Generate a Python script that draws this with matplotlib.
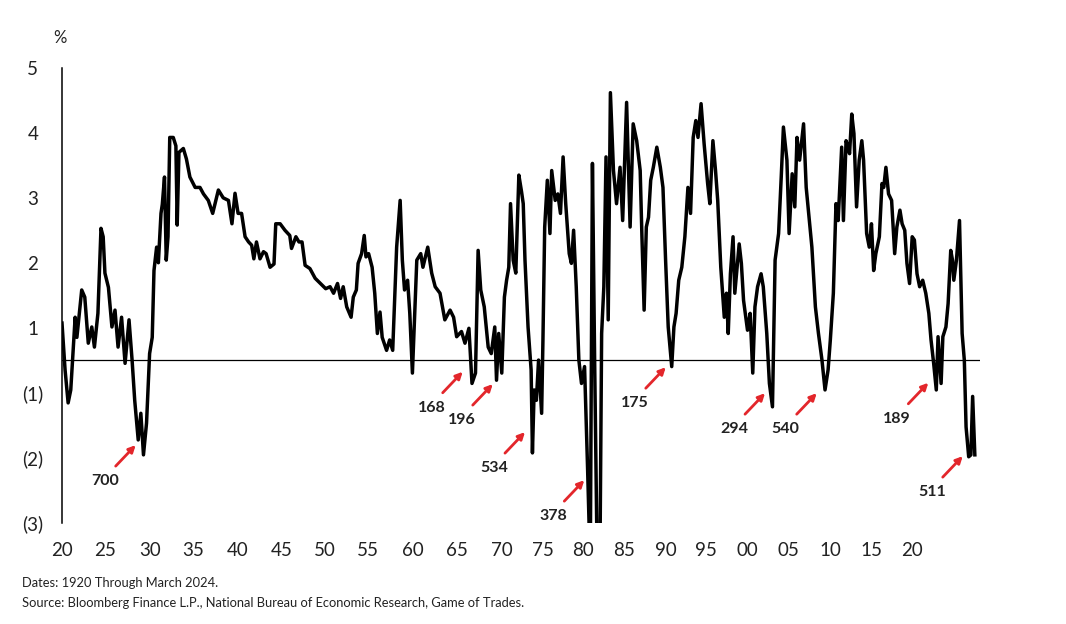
import matplotlib.pyplot as plt

plt.rcParams['font.family'] = ['Lato', 'DejaVu Sans']

# yield curve spread (zero line = 0)
years = [
    1920.0, 1920.35, 1920.7, 1921.0, 1921.5, 1921.7, 1922.25, 1922.6, 1923.0, 1923.4,
    1923.7, 1924.1, 1924.45, 1924.7, 1924.9, 1925.3, 1925.7, 1926.05, 1926.4, 1926.8,
    1927.2, 1927.65, 1928.0, 1928.3, 1928.7, 1929.0, 1929.3, 1929.65, 1930.0, 1930.3,
    1930.5, 1930.8, 1931.0, 1931.3, 1931.45, 1931.7, 1931.9, 1932.1, 1932.3, 1932.7,
    1933.0, 1933.15, 1933.35, 1933.85, 1934.2, 1934.6, 1935.2, 1935.75, 1936.15, 1936.7,
    1937.2, 1937.85, 1938.4, 1939.0, 1939.4, 1939.75, 1940.1, 1940.5, 1940.9, 1941.3,
    1941.65, 1941.9, 1942.2, 1942.6, 1943.0, 1943.3, 1943.75, 1944.2, 1944.4, 1944.9,
    1945.45, 1946.0, 1946.2, 1946.7, 1947.05, 1947.4, 1947.75, 1948.3, 1948.9, 1949.5,
    1950.1, 1950.6, 1951.0, 1951.45, 1951.8, 1952.1, 1952.5, 1953.0, 1953.25, 1953.6,
    1953.8, 1954.2, 1954.5, 1954.7, 1955.0, 1955.4, 1955.7, 1956.0, 1956.3, 1956.55,
    1957.05, 1957.4, 1957.75, 1958.2, 1958.6, 1958.85, 1959.1, 1959.45, 1959.7, 1960.0,
    1960.3, 1960.5, 1960.95, 1961.2, 1961.75, 1962.2, 1962.6, 1963.15, 1963.7, 1964.3,
    1964.7, 1965.05, 1965.6, 1966.0, 1966.45, 1966.8, 1967.2, 1967.5, 1967.8, 1968.2,
    1968.65, 1969.0, 1969.4, 1969.6, 1969.85, 1970.2, 1970.5, 1970.75, 1971.0, 1971.2,
    1971.5, 1971.8, 1972.15, 1972.45, 1972.65, 1972.85, 1973.2, 1973.55, 1973.7, 1973.9,
    1974.15, 1974.4, 1974.75, 1974.9, 1975.1, 1975.4, 1975.7, 1975.9, 1976.3, 1976.6,
    1976.9, 1977.2, 1977.5, 1977.9, 1978.15, 1978.4, 1978.7, 1979.0, 1979.3, 1979.65,
    1980.0, 1980.3, 1980.55, 1980.8, 1981.1, 1981.4, 1981.6, 1981.85, 1982.1, 1982.35,
    1982.6, 1982.95, 1983.3, 1983.7, 1984.0, 1984.45, 1984.85, 1985.2, 1985.6, 1986.0,
    1986.2, 1986.45, 1986.7, 1986.95, 1987.2, 1987.5, 1987.9, 1988.3, 1988.6, 1988.9,
    1989.2, 1989.6, 1989.85, 1990.1, 1990.4, 1990.75, 1991.1, 1991.45, 1991.75, 1992.05,
    1992.35, 1992.6, 1992.95, 1993.3, 1993.7, 1993.95, 1994.3, 1994.6, 1994.85, 1995.2,
    1995.6, 1995.85, 1996.05, 1996.3, 1996.6, 1996.8, 1997.3, 1997.55, 1997.8, 1998.25,
    1998.55, 1998.85, 1999.1, 1999.4, 1999.8, 2000.05, 2000.45, 2000.75, 2001.1, 2001.4,
    2001.8, 2002.1, 2002.35, 2002.75, 2003.0, 2003.35, 2003.65, 2003.9, 2004.2, 2004.65,
    2004.95, 2005.2, 2005.6, 2006.0, 2006.35, 2006.75, 2007.1, 2007.45, 2007.7, 2008.05,
    2008.35, 2008.6, 2009.0, 2009.2, 2009.5, 2009.75, 2009.9, 2010.15, 2010.4, 2010.7,
    2011.0, 2011.3, 2011.5, 2011.85, 2012.15, 2012.4, 2012.65, 2012.9, 2013.3, 2013.6,
    2013.8, 2014.05, 2014.35, 2014.7, 2015.05, 2015.3, 2015.65, 2015.9, 2016.2, 2016.45,
    2016.75, 2017.05, 2017.3, 2017.6, 2017.9, 2018.25, 2018.6, 2018.95, 2019.2, 2019.5,
    2019.8, 2020.0, 2020.35, 2020.55, 2020.9, 2021.15, 2021.45, 2021.65, 2021.8, 2022.1,
    2022.45, 2022.75, 2023.0, 2023.2, 2023.5, 2023.75, 2023.95, 2024.2,
]
spread = [
    0.57, -0.15, -0.66, -0.46, 0.66, 0.35, 1.08, 0.97, 0.26, 0.51,
    0.2, 0.72, 2.03, 1.9, 1.34, 1.12, 0.51, 0.77, 0.2, 0.66,
    -0.05, 0.62, 0.0, -0.62, -1.23, -0.82, -1.46, -0.97, 0.1, 0.35,
    1.38, 1.74, 1.5, 2.26, 2.4, 2.82, 1.54, 1.9, 3.43, 3.43,
    3.3, 2.08, 3.2, 3.26, 3.1, 2.82, 2.66, 2.66, 2.56, 2.46,
    2.26, 2.62, 2.5, 2.46, 2.1, 2.57, 2.26, 2.26, 1.9, 1.82,
    1.77, 1.56, 1.82, 1.56, 1.67, 1.64, 1.43, 1.48, 2.1, 2.1,
    2.0, 1.92, 1.72, 1.9, 1.82, 1.82, 1.46, 1.41, 1.26, 1.18,
    1.1, 1.13, 1.03, 1.18, 0.95, 1.13, 0.82, 0.66, 0.97, 1.08,
    1.49, 1.64, 1.92, 1.59, 1.64, 1.43, 1.03, 0.41, 0.74, 0.35,
    0.15, 0.31, 0.15, 1.74, 2.46, 1.54, 1.08, 1.23, 0.72, -0.2,
    0.87, 1.54, 1.64, 1.43, 1.74, 1.34, 1.13, 1.03, 0.62, 0.77,
    0.66, 0.36, 0.44, 0.26, 0.49, -0.36, -0.2, 1.69, 1.08, 0.82,
    0.2, 0.1, 0.51, -0.31, 0.41, -0.2, 0.97, 1.23, 1.43, 2.41,
    1.54, 1.34, 2.85, 2.6, 2.41, 1.54, 0.51, -0.15, -1.43, -0.46,
    -0.62, 0.0, -0.82, 0.31, 2.05, 2.77, 1.95, 2.92, 2.46, 2.56,
    2.26, 3.13, 2.41, 1.64, 1.49, 2.0, 1.13, 0.0, -0.36, -0.1,
    -1.69, -3.2, 3.03, 0.0, -3.2, -3.2, 0.41, 1.13, 3.13, 0.62,
    4.12, 2.92, 2.41, 2.97, 2.15, 3.97, 2.05, 3.64, 3.38, 2.92,
    1.9, 0.77, 2.05, 2.2, 2.77, 2.97, 3.28, 2.97, 2.66, 1.54,
    0.51, -0.1, 0.51, 0.72, 1.23, 1.43, 1.9, 2.66, 2.26, 3.43,
    3.69, 3.43, 3.95, 3.33, 2.72, 2.41, 3.38, 2.92, 2.46, 1.43,
    0.66, 1.03, 0.41, 1.33, 1.9, 1.03, 1.79, 1.49, 0.92, 0.46,
    0.72, -0.2, 0.82, 1.13, 1.33, 1.13, 0.41, -0.36, -0.72, 1.54,
    1.95, 2.82, 3.59, 3.08, 1.95, 2.87, 2.36, 3.43, 3.08, 3.64,
    2.66, 2.31, 1.74, 0.82, 0.41, 0.0, -0.46, -0.15, 0.3, 1.03,
    2.41, 2.15, 3.28, 2.15, 3.38, 3.28, 3.18, 3.79, 3.49, 2.36,
    3.08, 3.38, 3.08, 1.95, 1.74, 2.1, 1.38, 1.64, 1.9, 2.72,
    2.66, 2.97, 2.56, 2.46, 1.64, 2.05, 2.31, 2.1, 2.0, 1.49,
    1.18, 1.9, 1.85, 1.33, 1.13, 1.23, 1.03, 0.72, 0.31, -0.05,
    -0.46, 0.36, -0.36, 0.36, 0.51, 0.87, 1.69, 1.54, 1.23, 1.54,
    2.15, 0.41, 0.0, -1.03, -1.49, -1.46, -0.56, -1.46,
]

xtick_labels = ['20', '25', '30', '35', '40', '45', '50', '55', '60', '65', '70',
                '75', '80', '85', '90', '95', '00', '05', '10', '15', '20']
xtick_pos = [1920.0, 1924.9, 1930.05, 1934.95, 1940.1, 1945.1, 1950.0, 1954.9, 1960.05,
             1965.1, 1970.2, 1974.9, 1979.5, 1984.15, 1988.95, 1993.5, 1998.2, 2002.9,
             2007.7, 2012.45, 2017.05]
ytick_labels = ['5', '4', '3', '2', '1', '(1)', '(2)', '(3)']
ytick_pos = [4.5, 3.5, 2.5, 1.5, 0.5, -0.5, -1.5, -2.5]

# red arrows: label and where the arrow tip sits
ann_labels = ['700', '168', '196', '534', '378', '175', '294', '540', '189', '511']
ann_years = [1928.41, 1965.74, 1969.17, 1972.85, 1979.62, 1988.92, 2000.25, 2006.15, 2018.89, 2022.82]
ann_values = [-1.31, -0.18, -0.37, -1.11, -1.85, -0.11, -0.51, -0.51, -0.35, -1.48]

fig = plt.figure(figsize=(10.66, 6.24), dpi=100)
ax = fig.add_axes([62 / 1066, 1 - 523 / 624, 918 / 1066, 455 / 624])

ax.plot(years, spread, color='black', lw=2.5)
ax.axhline(0, color='black', lw=0.9)

ax.set_xlim(1920, 2024.79)
ax.set_ylim(-2.51, 4.49)
ax.set_xticks(xtick_pos, xtick_labels)
ax.set_yticks(ytick_pos, ytick_labels)
ax.tick_params(axis='x', length=0, pad=14, labelsize=13.5, colors='#222222')
ax.tick_params(axis='y', length=0, pad=21, labelsize=13.5, colors='#222222')
for lbl in ax.get_yticklabels():
    lbl.set_horizontalalignment('center')

for side in ['top', 'right', 'bottom']:
    ax.spines[side].set_visible(False)
ax.spines['left'].set_linewidth(1.1)

for lab, x, y in zip(ann_labels, ann_years, ann_values):
    ax.annotate('', xy=(x, y), xytext=(-20, -21), textcoords='offset pixels',
                arrowprops=dict(arrowstyle='-|>', color='#e3262b', lw=2,
                                mutation_scale=10, shrinkA=0, shrinkB=0))
    ax.annotate(lab, xy=(x, y), xytext=(-31, -36), textcoords='offset pixels',
                ha='center', va='center', fontsize=11.5, fontweight='bold', color='#222222')

fig.text(60 / 1066, 1 - 38 / 624, '%', ha='center', va='center', fontsize=12, color='#222222')
fig.text(22 / 1066, 1 - 583 / 624, 'Dates: 1920 Through March 2024.', va='center',
         fontsize=9.3, color='#222222')
fig.text(22 / 1066, 1 - 603 / 624,
         'Source: Bloomberg Finance L.P., National Bureau of Economic Research, Game of Trades.',
         va='center', fontsize=9.3, color='#222222')

fig.savefig('out.png', dpi=100)
